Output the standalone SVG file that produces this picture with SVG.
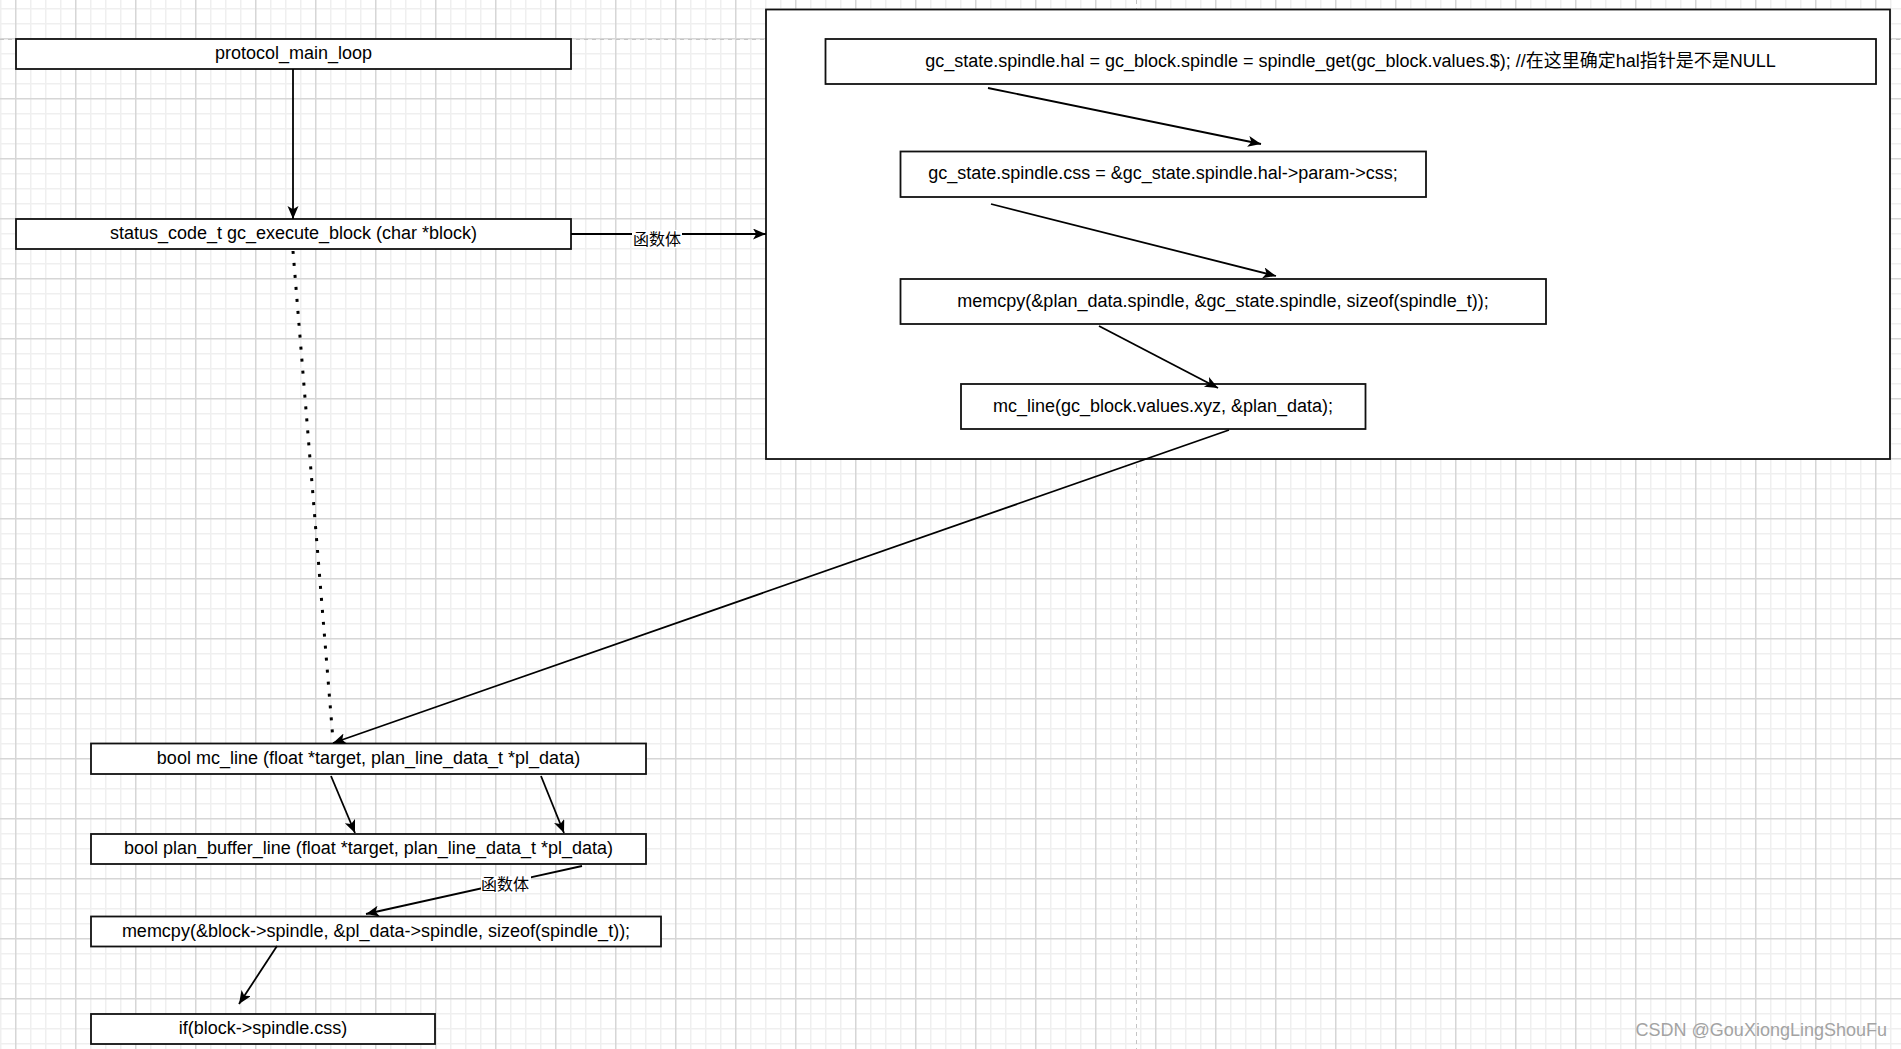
<svg xmlns="http://www.w3.org/2000/svg" width="1901" height="1049" viewBox="0 0 1901 1049">
<style>
.box{fill:#fff;stroke:#111;stroke-width:1.8}
.t{font-family:"Liberation Sans","Noto Sans CJK SC",Arial,sans-serif;font-size:18px;fill:#000;text-anchor:middle}
.lbl{font-family:"Noto Sans CJK SC","Liberation Sans",sans-serif;font-size:16px;fill:#000;text-anchor:middle}
.c{fill:none;stroke:#000;stroke-width:1.8}
.arr{marker-end:url(#ah)}
.dot{fill:none;stroke:#000;stroke-width:3;stroke-dasharray:3 9}
.page{fill:none;stroke:#c4c4c4;stroke-width:1;stroke-dasharray:4 4}
</style>
<defs>
<pattern id="grid" x="15" y="38" width="60" height="60" patternUnits="userSpaceOnUse">
<rect width="60" height="60" fill="#fff"/>
<rect x="15" y="0" width="1.5" height="60" fill="#efefef"/>
<rect x="30" y="0" width="1.5" height="60" fill="#efefef"/>
<rect x="45" y="0" width="1.5" height="60" fill="#efefef"/>
<rect x="0" y="15" width="60" height="1.5" fill="#efefef"/>
<rect x="0" y="30" width="60" height="1.5" fill="#efefef"/>
<rect x="0" y="45" width="60" height="1.5" fill="#efefef"/>
<rect x="0" y="0" width="1.5" height="60" fill="#d6d6d6"/>
<rect x="0" y="0" width="60" height="1.5" fill="#d6d6d6"/>
</pattern>
<marker id="ah" markerUnits="userSpaceOnUse" markerWidth="15" markerHeight="13" refX="13" refY="5.5" orient="auto">
<path d="M0,0 L13,5.5 L0,11 L3.2,5.5 Z" fill="#000"/>
</marker>
</defs>
<rect width="1901" height="1049" fill="url(#grid)"/>
<g id="page-borders">
<line class="page" x1="0" y1="39.5" x2="1901" y2="39.5"/>
<line class="page" x1="1136.5" y1="0" x2="1136.5" y2="1049"/>
</g>
<g id="function-body-frame">
<rect class="box" x="766" y="9.5" width="1124" height="449.5"/>
</g>
<g id="n-protocol-main-loop">
<rect class="box" x="16" y="39" width="555" height="30"/>
<text class="t" x="293.5" y="59">protocol_main_loop</text>
</g>
<g id="n-gc-execute-block">
<rect class="box" x="16" y="219" width="555" height="30"/>
<text class="t" x="293.5" y="239">status_code_t gc_execute_block (char *block)</text>
</g>
<g id="n-spindle-hal">
<rect class="box" x="825.5" y="39" width="1050.5" height="45"/>
<text class="t" x="1350.5" y="66.5">gc_state.spindle.hal = gc_block.spindle = spindle_get(gc_block.values.$); //在这里确定hal指针是不是NULL</text>
</g>
<g id="n-spindle-css">
<rect class="box" x="900.5" y="151.5" width="525.5" height="45.5"/>
<text class="t" x="1163" y="179">gc_state.spindle.css = &amp;gc_state.spindle.hal-&gt;param-&gt;css;</text>
</g>
<g id="n-memcpy-plan">
<rect class="box" x="900.5" y="279" width="645.5" height="45"/>
<text class="t" x="1223" y="306.5">memcpy(&amp;plan_data.spindle, &amp;gc_state.spindle, sizeof(spindle_t));</text>
</g>
<g id="n-mc-line-call">
<rect class="box" x="961" y="384" width="404.5" height="45"/>
<text class="t" x="1163" y="411.5">mc_line(gc_block.values.xyz, &amp;plan_data);</text>
</g>
<g id="n-mc-line">
<rect class="box" x="91" y="743.5" width="555" height="30.5"/>
<text class="t" x="368.5" y="764">bool mc_line (float *target, plan_line_data_t *pl_data)</text>
</g>
<g id="n-plan-buffer-line">
<rect class="box" x="91" y="834" width="555" height="30"/>
<text class="t" x="368.5" y="854">bool plan_buffer_line (float *target, plan_line_data_t *pl_data)</text>
</g>
<g id="n-memcpy-block">
<rect class="box" x="91" y="916.5" width="570" height="30"/>
<text class="t" x="376" y="936.5">memcpy(&amp;block-&gt;spindle, &amp;pl_data-&gt;spindle, sizeof(spindle_t));</text>
</g>
<g id="n-if-css">
<rect class="box" x="91" y="1014" width="344" height="30"/>
<text class="t" x="263" y="1034">if(block-&gt;spindle.css)</text>
</g>
<g id="connectors">
<line class="c arr" x1="293" y1="69" x2="293" y2="219"/>
<line class="c arr" x1="571" y1="234" x2="766" y2="234"/>
<rect x="632" y="230" width="50" height="18" fill="#fff"/>
<text class="lbl" x="657" y="245">函数体</text>
<line class="dot" x1="293" y1="251" x2="333" y2="740"/>
<line class="c arr" x1="988" y1="88" x2="1261" y2="144"/>
<line class="c arr" x1="991" y1="204" x2="1276" y2="276"/>
<line class="c arr" x1="1099" y1="326" x2="1218" y2="388"/>
<line class="c arr" x1="1229" y1="430" x2="333" y2="743"/>
<line class="c arr" x1="331" y1="776" x2="355" y2="833"/>
<line class="c arr" x1="541" y1="776" x2="564" y2="833"/>
<line class="c arr" x1="582" y1="866" x2="366" y2="914"/>
<rect x="481" y="876" width="50" height="17" fill="#fff"/>
<text class="lbl" x="505" y="890">函数体</text>
<line class="c arr" x1="277" y1="946" x2="239" y2="1004"/>
</g>
<text x="1887" y="1036" font-family="'Liberation Sans',Arial,sans-serif" font-size="18" fill="#a3a3a3" text-anchor="end">CSDN @GouXiongLingShouFu</text>
</svg>
